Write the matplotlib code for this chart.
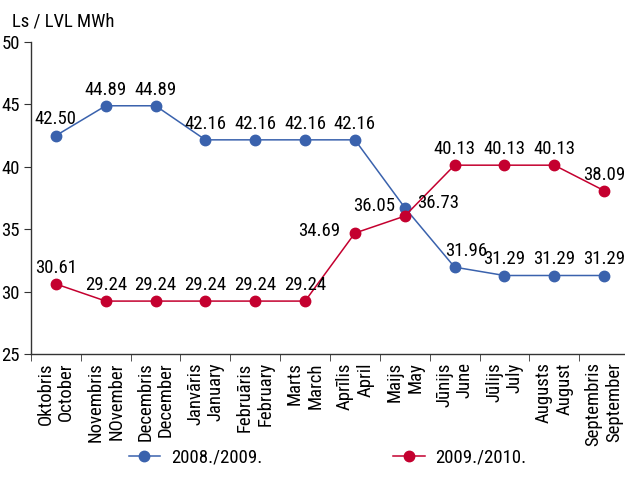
import numpy as np
import matplotlib.pyplot as plt
from matplotlib import font_manager

# prefer a narrow face; fall back to a smaller DejaVu Sans
installed = {f.name for f in font_manager.fontManager.ttflist}
fs = 10
for name, size in [('Liberation Sans Narrow', 13.5), ('Roboto Condensed', 13.5),
                   ('DejaVu Sans Condensed', 11.5), ('Open Sans Condensed', 13)]:
    if name in installed:
        plt.rcParams['font.family'] = [name, 'DejaVu Sans']
        fs = size
        break
else:
    plt.rcParams['font.family'] = ['DejaVu Sans']

months = ['Oktobris\nOctober', 'Novembris\nNOvember', 'Decembris\nDecember',
          'Janvāris\nJanuary', 'Februāris\nFebruary', 'Marts\nMarch',
          'Aprīlis\nApril', 'Maijs\nMay', 'Jūnijs\nJune', 'Jūlijs\nJuly',
          'Augusts\nAugust', 'Septembris\nSeptember']
s2008 = [42.50, 44.89, 44.89, 42.16, 42.16, 42.16, 42.16, 36.73, 31.96, 31.29, 31.29, 31.29]
s2009 = [30.61, 29.24, 29.24, 29.24, 29.24, 29.24, 34.69, 36.05, 40.13, 40.13, 40.13, 38.09]

blue = '#3A62AD'
red = '#C4002F'

fig = plt.figure(figsize=(6.25, 4.93), dpi=100)
ax = fig.add_axes([31/625, 139/493, 598/625, 312/493])

x = np.arange(len(months))
ax.plot(x, s2008, color=blue, lw=1.1, marker='o', ms=7.5, label='2008./2009.')
ax.plot(x, s2009, color=red, lw=1.1, marker='o', ms=7.5, label='2009./2010.')

# value labels; a few are pushed sideways where the lines cross
shift_b = {7: (24, -8), 8: (8, 0)}
shift_r = {6: (-26, -10), 7: (-22, -4)}
for i, v in enumerate(s2008):
    dx, dy = shift_b.get(i, (0, 0))
    ax.annotate(f'{v:.2f}', (i, v), xytext=(dx, 8 + dy), textcoords='offset points',
                ha='center', va='baseline', fontsize=fs, annotation_clip=False)
for i, v in enumerate(s2009):
    dx, dy = shift_r.get(i, (0, 0))
    ax.annotate(f'{v:.2f}', (i, v), xytext=(dx, 8 + dy), textcoords='offset points',
                ha='center', va='baseline', fontsize=fs, annotation_clip=False)

ax.set_xlim(-0.5, 11.5)
ax.set_ylim(25, 50)
ax.set_yticks([25, 30, 35, 40, 45, 50])
ax.set_xticks(x)
ax.set_xticklabels(months, rotation=90, ha='center', va='top', multialignment='right')
ax.set_xticks(np.arange(-0.5, 12, 1), minor=True)
ax.tick_params(axis='x', which='major', length=0, pad=6, labelsize=fs)
ax.tick_params(axis='x', which='minor', length=5, direction='out', color='#333333')
ax.tick_params(axis='y', length=5, direction='out', labelsize=fs, pad=3, color='#333333')

for s in ['top', 'right']:
    ax.spines[s].set_visible(False)
for s in ['left', 'bottom']:
    ax.spines[s].set_color('#333333')
    ax.spines[s].set_linewidth(1.0)

fig.text(12/625, 1 - 22/493, 'Ls / LVL MWh', fontsize=fs, va='center', ha='left')

fig.legend(loc='center', bbox_to_anchor=(0.524, 0.071), ncol=2, frameon=False,
           fontsize=fs, handlelength=1.7, handletextpad=0.55, columnspacing=7.0)

fig.savefig('out.png', dpi=100)
